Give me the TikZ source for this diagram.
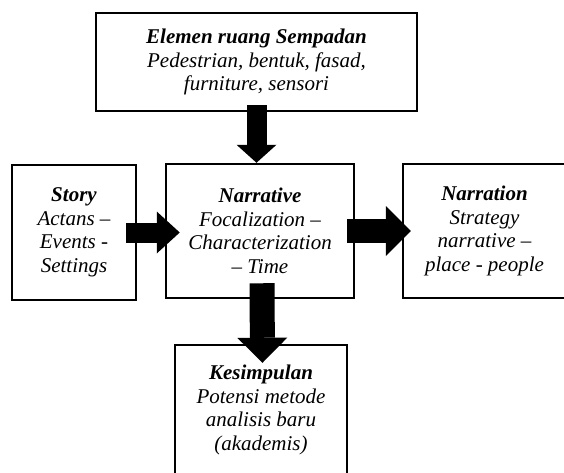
\documentclass[tikz,border=0pt]{standalone}
\usepackage{fontspec}
\setmainfont{Liberation Serif}
\usetikzlibrary{arrows.meta,calc}
\begin{document}
\begin{tikzpicture}[x=1pt,y=-1pt,
  box/.style={draw, line width=2.5pt, rectangle, align=center, inner sep=0pt,
    font=\fontsize{21}{23.5}\selectfont\itshape},
  barrow/.style n args={3}{draw=black, line width=#1,
    -{Triangle[length=#2, width=#3, line width=0pt]}}]
\clip (0,0) rectangle (564,472);
\node[box, minimum width=321pt, minimum height=98pt] (top) at (256.5,62)
  {\textbf{Elemen ruang Sempadan}\\Pedestrian, bentuk, fasad,\\furniture, sensori};
\node[box, minimum width=124pt, minimum height=135pt] (story) at (74,232.5)
  {\textbf{Story}\\Actans –\\Events -\\Settings};
\node[box, minimum width=188pt, minimum height=134pt] (narr) at (260,231)
  {\textbf{Narrative}\\Focalization –\\Characterization\\– Time};
\node[box, minimum width=163pt, minimum height=134pt] (narration) at (484.5,231)
  {\textbf{Narration}\\Strategy\\narrative –\\place - people};
\node[box, minimum width=172pt, minimum height=130pt] (kes) at (261,410)
  {\textbf{Kesimpulan}\\Potensi metode\\analisis baru\\(akademis)};
\draw[barrow={20pt}{18pt}{40pt}] ($(top.south)+(0,-7)$) -- (top.south |- narr.north);
\draw[barrow={20pt}{23pt}{42pt}] ($(story.east)+(-11,0)$) -- ($(narr.west |- story.east)+(15,0)$);
\draw[barrow={24pt}{25pt}{50pt}] ($(narr.east)+(-8,0)$) -- ($(narration.west)+(9,0)$);
\draw[barrow={25pt}{25pt}{50pt}] ($(narr.south)+(2,-16)$) -- ($(kes.north)+(1.5,19)$);
\end{tikzpicture}
\end{document}
